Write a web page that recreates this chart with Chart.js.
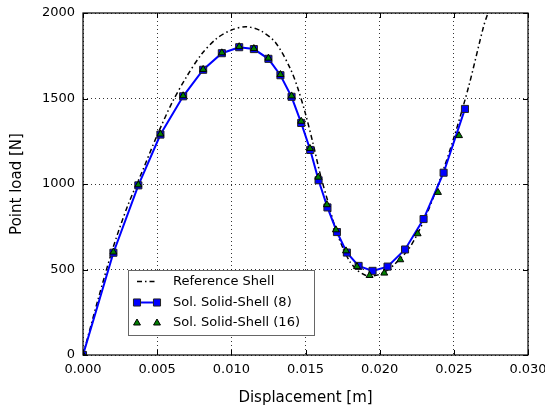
<!DOCTYPE html>
<html>
<head>
<meta charset="utf-8">
<script src="https://cdn.jsdelivr.net/npm/chart.js@4/dist/chart.umd.min.js"></script>
<style>body{margin:0;background:#fff}</style>
</head>
<body>
<canvas id="chart" width="545" height="412"></canvas>
<script>
// Reference shell solution (dash-dot curve)
const refX = [0, 0.001, 0.002, 0.003, 0.004, 0.005, 0.006, 0.007, 0.008, 0.009, 0.010, 0.011, 0.012, 0.013, 0.014, 0.0145, 0.015, 0.0155, 0.016, 0.0165, 0.017, 0.0175, 0.018, 0.0185, 0.019, 0.0195, 0.020, 0.0205, 0.021, 0.022, 0.023, 0.024, 0.025, 0.026, 0.027, 0.0273];
const refY = [0, 320, 620, 870, 1075, 1285, 1475, 1630, 1760, 1850, 1900, 1920, 1895, 1825, 1670, 1555, 1410, 1240, 1055, 900, 745, 630, 545, 495, 468, 462, 472, 495, 530, 625, 790, 1010, 1270, 1570, 1920, 2000];

// Solid-shell, 8 elements
const sol8X = [0, 0.00205, 0.00373, 0.00522, 0.00675, 0.0081, 0.00936, 0.01053, 0.01152, 0.0125, 0.01331, 0.01406, 0.01471, 0.01532, 0.01588, 0.01648, 0.01712, 0.01779, 0.01858, 0.01952, 0.02053, 0.02171, 0.02296, 0.02431, 0.02575];
const sol8Y = [0, 598, 992, 1289, 1513, 1668, 1765, 1800, 1789, 1732, 1636, 1510, 1357, 1199, 1022, 863, 719, 599, 521, 492, 517, 617, 795, 1066, 1439];

// Solid-shell, 16 elements
const sol16X = [0, 0.00205, 0.00373, 0.00522, 0.00675, 0.0081, 0.00936, 0.01053, 0.01152, 0.0125, 0.01331, 0.01406, 0.01471, 0.0153, 0.01586, 0.01644, 0.01705, 0.01773, 0.01847, 0.01932, 0.02031, 0.02139, 0.02256, 0.02393, 0.02535];
const sol16Y = [0, 602, 995, 1292, 1516, 1670, 1767, 1803, 1792, 1736, 1640, 1515, 1367, 1208, 1040, 879, 732, 609, 517, 465, 479, 557, 709, 951, 1283];

const xTicks = [0, 0.005, 0.010, 0.015, 0.020, 0.025, 0.030];
const yTicks = [0, 500, 1000, 1500, 2000];

function toPoints(xs, ys) {
    return xs.map((x, i) => ({x: x, y: ys[i]}));
}

const FONT = 'DejaVu Sans';

// box around plot + inward ticks like matplotlib classic
const frame = {
    id: 'frame',
    afterDatasetsDraw(chart) {
        const {ctx, chartArea: a, scales} = chart;
        ctx.save();
        ctx.strokeStyle = '#000';
        ctx.lineWidth = 1;
        ctx.beginPath();
        xTicks.forEach(t => {
            const px = Math.round(scales.x.getPixelForValue(t)) + 0.5;
            ctx.moveTo(px, a.bottom); ctx.lineTo(px, a.bottom - 5);
            ctx.moveTo(px, a.top); ctx.lineTo(px, a.top + 5);
        });
        yTicks.forEach(t => {
            const py = Math.round(scales.y.getPixelForValue(t)) + 0.5;
            ctx.moveTo(a.left, py); ctx.lineTo(a.left + 5, py);
            ctx.moveTo(a.right, py); ctx.lineTo(a.right - 5, py);
        });
        ctx.stroke();
        ctx.lineWidth = 1.2;
        ctx.strokeRect(a.left, a.top, a.right - a.left, a.bottom - a.top);
        ctx.restore();
    }
};

const legendBox = {
    id: 'legendBox',
    afterDraw(chart) {
        const ctx = chart.ctx;
        const bx = 128.5, by = 270.5, bw = 186, bh = 65;
        ctx.save();
        ctx.fillStyle = '#fff';
        ctx.fillRect(bx, by, bw, bh);
        ctx.strokeStyle = '#666';
        ctx.lineWidth = 1;
        ctx.strokeRect(bx, by, bw, bh);
        const rows = [281.5, 302.5, 323];
        const x1 = 137, x2 = 157;
        chart.data.datasets.forEach((ds, i) => {
            const y = rows[i];
            if (ds.showLine !== false) {
                ctx.save();
                ctx.strokeStyle = ds.borderColor;
                ctx.lineWidth = ds.borderWidth;
                ctx.setLineDash(ds.borderDash || []);
                ctx.beginPath();
                ctx.moveTo(x1, y); ctx.lineTo(x2, y);
                ctx.stroke();
                ctx.restore();
            }
            if (ds.pointRadius > 0) {
                ctx.fillStyle = ds.pointBackgroundColor;
                ctx.strokeStyle = ds.pointBorderColor;
                ctx.lineWidth = ds.pointBorderWidth;
                [x1, x2].forEach(px => {
                    Chart.helpers.drawPoint(ctx, {pointStyle: ds.pointStyle, radius: ds.pointRadius, borderWidth: ds.pointBorderWidth, rotation: 0}, px, y);
                });
            }
            ctx.fillStyle = '#000';
            ctx.font = '13px "' + FONT + '"';
            ctx.textBaseline = 'middle';
            ctx.fillText(ds.label, 173, y);
        });
        ctx.restore();
    }
};

new Chart(document.getElementById('chart'), {
    type: 'line',
    data: {
        datasets: [{
            label: 'Reference Shell',
            data: toPoints(refX, refY),
            borderColor: '#000',
            borderWidth: 1.5,
            borderDash: [5, 3, 1.5, 3],
            pointRadius: 0,
            tension: 0.3,
            order: 3
        }, {
            label: 'Sol. Solid-Shell (8)',
            data: toPoints(sol8X, sol8Y),
            borderColor: '#0000ff',
            borderWidth: 2,
            pointStyle: 'rect',
            pointRadius: 5,
            pointBackgroundColor: '#0000ff',
            pointBorderColor: '#222',
            pointBorderWidth: 1,
            tension: 0,
            order: 2
        }, {
            label: 'Sol. Solid-Shell (16)',
            data: toPoints(sol16X, sol16Y),
            showLine: false,
            borderColor: '#000',
            pointStyle: 'triangle',
            pointRadius: 4,
            pointBackgroundColor: '#008000',
            pointBorderColor: '#000',
            pointBorderWidth: 1,
            order: 1
        }]
    },
    options: {
        responsive: false,
        animation: false,
        layout: {padding: {top: 13, right: 17, left: 0, bottom: 0}},
        plugins: {legend: {display: false}, tooltip: {enabled: false}},
        scales: {
            x: {
                type: 'linear',
                min: 0, max: 0.03,
                afterFit: s => { s.height = 57; s.paddingLeft = 0; s.paddingRight = 0; },
                afterBuildTicks: s => { s.ticks = xTicks.map(v => ({value: v})); },
                ticks: {
                    color: '#000', padding: 7,
                    font: {family: FONT, size: 13},
                    callback: v => v.toFixed(3)
                },
                grid: {color: '#000', lineWidth: 0.8, drawTicks: false},
                border: {display: false, dash: [1, 3]},
                title: {display: true, text: 'Displacement [m]', color: '#000', font: {family: FONT, size: 15}, padding: {top: 0, bottom: 5}}
            },
            y: {
                min: 0, max: 2000,
                afterFit: s => { s.width = 83; s.paddingTop = 0; s.paddingBottom = 0; },
                afterBuildTicks: s => { s.ticks = yTicks.map(v => ({value: v})); },
                ticks: {
                    color: '#000', padding: 8,
                    font: {family: FONT, size: 13},
                    callback: v => String(v)
                },
                grid: {color: '#000', lineWidth: 0.8, drawTicks: false},
                border: {display: false, dash: [1, 3]},
                title: {display: true, text: 'Point load [N]', color: '#000', font: {family: FONT, size: 15}, padding: {top: 8, bottom: 0}}
            }
        }
    },
    plugins: [frame, legendBox]
});
</script>
</body>
</html>
